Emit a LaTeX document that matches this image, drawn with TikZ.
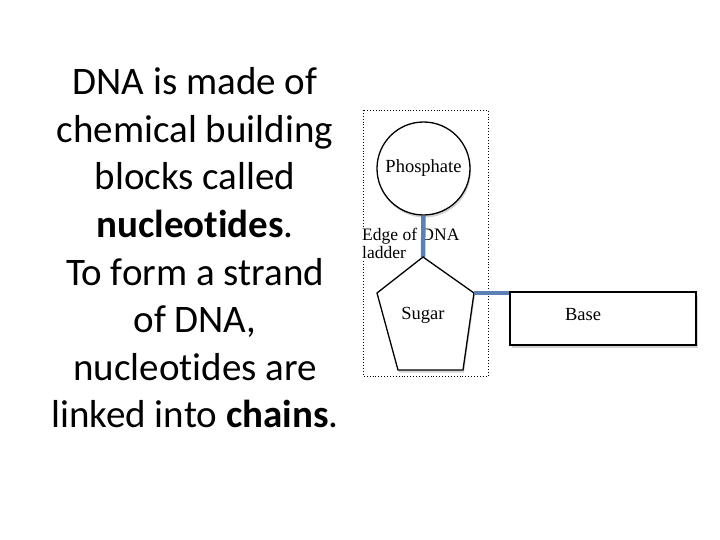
\documentclass[tikz,border=0pt]{standalone}
\usepackage{fontspec}
\setmainfont[Ligatures=NoCommon]{Carlito}
\newfontfamily\labfont{Liberation Serif}
\usetikzlibrary{shadows}
\definecolor{linkblue}{HTML}{5A80B4}
\begin{document}
\begin{tikzpicture}[x=1pt,y=-1pt,
  shapeline/.style={draw=black,line width=1.3pt,fill=white,
    drop shadow={opacity=0.35,shadow xshift=1pt,shadow yshift=-2.5pt}},
  labtext/.style={font=\labfont\fontsize{18.5}{18}\selectfont},
  link/.style={draw=linkblue,line width=4.5pt}]
\useasboundingbox (0,0) rectangle (720,540);
% main text
\node[align=center,font=\fontsize{39}{47.6}\selectfont] (txt) at (195,248)
 {DNA is made of\\chemical building\\blocks called\\\textbf{nucleotides}.\\To form a strand\\of DNA,\\nucleotides are\\linked into \textbf{chains}.};
% dotted frame
\draw[dotted,line width=0.9pt] (363,110) rectangle (488,376);
% pentagon vertices
\coordinate (ptop) at (423,257);
\coordinate (pl) at (377,293);
\coordinate (pr) at (474,293);
\coordinate (pbl) at (398,370);
\coordinate (pbr) at (463,370);
% phosphate
\node[circle,minimum size=93pt,inner sep=0pt,shapeline] (phos) at (423.5,168.5) {};
% edge label
\node[labtext,align=left,anchor=west,fill=white,inner xsep=0pt,inner ysep=1pt,
  font=\labfont\fontsize{17.5}{18}\selectfont] (edge) at (362,243) {Edge of DNA\\ladder};
\path[link] (phos.south) -- (ptop);
% sugar
\path[shapeline] (ptop) -- (pr) -- (pbr) -- (pbl) -- (pl) -- cycle;
\node[labtext] (sugar) at (423,315) {Sugar};
\node[labtext] (phoslab) at (phos.center) {Phosphate};
% base
\node[draw=black,line width=1.3pt,fill=white,minimum width=186pt,minimum height=53pt,
  drop shadow={opacity=0.35,shadow xshift=1.5pt,shadow yshift=-2.5pt}] (base) at (603,318.5) {};
\node[labtext] (baselab) at (583,315) {Base};
\path[link] (pr) -- (pr -| base.west);
\end{tikzpicture}
\end{document}
